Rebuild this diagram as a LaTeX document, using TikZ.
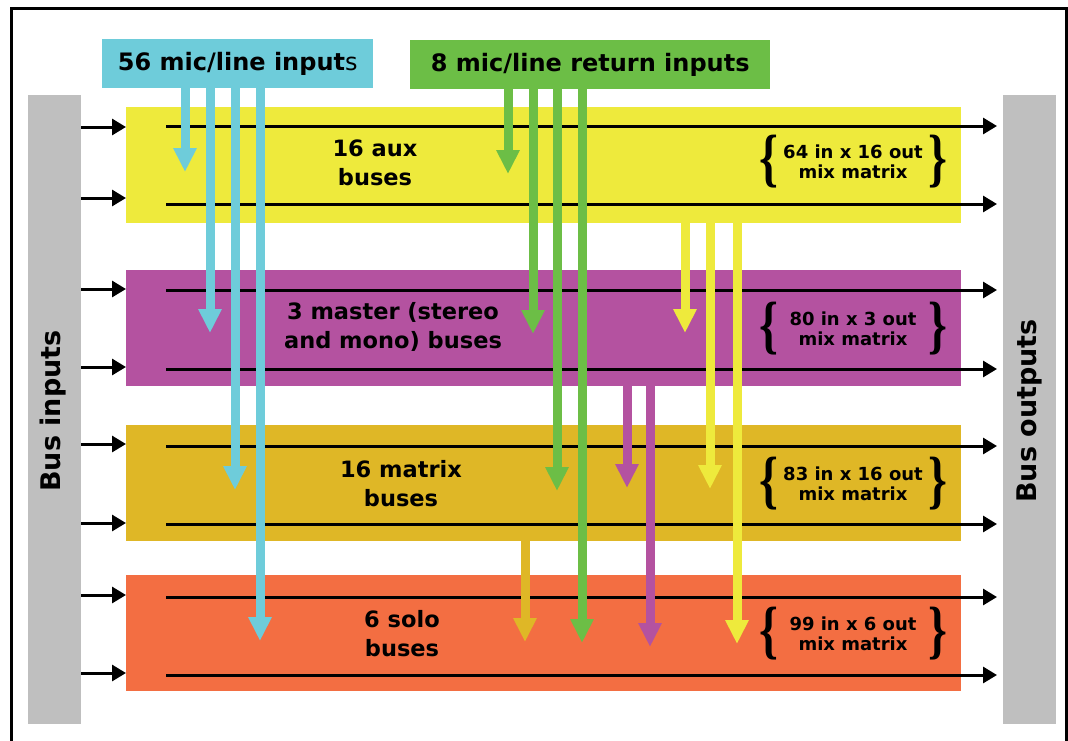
\documentclass[tikz,border=0pt]{standalone}
\usepackage{fontspec}
\setmainfont{DejaVu Sans}
\newfontfamily\bracefont{Liberation Serif}
\usetikzlibrary{arrows.meta}
\definecolor{cyanc}{RGB}{110,204,218}
\definecolor{greenc}{RGB}{108,190,70}
\definecolor{yellowc}{RGB}{238,234,60}
\definecolor{purplec}{RGB}{180,82,160}
\definecolor{goldc}{RGB}{223,183,38}
\definecolor{orangec}{RGB}{243,110,66}
\definecolor{grayc}{RGB}{191,191,191}
\tikzset{
  busbox/.style={rectangle, inner sep=0pt, minimum width=835pt, minimum height=116pt, anchor=north west},
  sidebar/.style={rectangle, fill=grayc, inner sep=0pt, minimum width=53pt, minimum height=629pt, anchor=north west},
  srcbox/.style={rectangle, inner sep=0pt, anchor=north west, minimum height=49pt, font=\fontsize{24}{28}\selectfont},
  buslabel/.style={align=center, inner sep=0pt, font=\bfseries\fontsize{22.5}{29}\selectfont},
  mixlabel/.style={align=center, inner sep=0pt, font=\bfseries\fontsize{18}{20}\selectfont},
  bracemark/.style={inner sep=0pt, xscale=0.75, font=\bracefont\bfseries\fontsize{64}{64}\selectfont},
  barlabel/.style={rotate=90, inner sep=0pt, font=\bfseries\fontsize{27}{30}\selectfont},
  busline/.style={line width=3pt, -{Triangle[width=16pt,length=14pt]}},
  feed/.style={line width=9pt, -{Triangle[width=22pt,length=24pt]}},
}
\begin{document}
\begin{tikzpicture}[x=1pt,y=-1pt]
\useasboundingbox (0,0) rectangle (1068,740);
\fill[white] (0,0) rectangle (1068,740);
\draw[line width=3pt] (11,742) -- (11,8) -- (1066,8) -- (1066,742);

% side bars
\node[sidebar] (bin) at (28,95) {};
\node[sidebar] (bout) at (1003,95) {};
\node[barlabel] (binl) at (53,411) {Bus inputs};
\node[barlabel] (boutl) at (1029,411) {Bus outputs};

% bus boxes
\node[busbox, fill=yellowc] (aux) at (126,107) {};
\node[busbox, fill=purplec] (mst) at (126,270) {};
\node[busbox, fill=goldc] (mtx) at (126,425) {};
\node[busbox, fill=orangec] (solo) at (126,575) {};

% source boxes
\node[srcbox, fill=cyanc, minimum width=271pt] (in56) at (102,39) {\bfseries 56 mic/line input\mdseries s};
\node[srcbox, fill=greenc, minimum width=360pt] (in8) at (410,40) {\bfseries 8 mic/line return inputs};

% bus labels
\node[buslabel] (auxl) at (375,163) {16 aux\\buses};
\node[buslabel] (mstl) at (393,327) {3 master (stereo\\and mono) buses};
\node[buslabel] (mtxl) at (401,484) {16 matrix\\buses};
\node[buslabel] (solol) at (402,634) {6 solo\\buses};

% mix matrix labels with braces
\foreach \n/\y/\t in {auxm/162/64 in x 16 out, mstm/329/80 in x 3 out, mtxm/484/83 in x 16 out, solom/634/99 in x 6 out}{
  \node[mixlabel] (\n) at (853,\y) {\t\\mix matrix};
  \node[bracemark] (\n l) at (769,\y) {\{};
  \node[bracemark] (\n r) at (938,\y) {\}};
}

% bus input arrows
\foreach \b/\ya/\yb in {aux/127/198, mst/289/367, mtx/444/523, solo/595/673}{
  \draw[busline] (81,\ya -| bin.east) -- (81,\ya -| \b.west);
  \draw[busline] (81,\yb -| bin.east) -- (81,\yb -| \b.west);
}
% bus lines to outputs
\foreach \ya/\yb in {126/204, 290/369, 446/524, 597/675}{
  \coordinate (la) at (166,\ya);
  \coordinate (lb) at (166,\yb);
  \draw[busline] (la) -- (997,\ya);
  \draw[busline] (lb) -- (997,\yb);
}

% cyan feeds
\draw[feed, cyanc] (185,0 |- in56.south) -- (185,172);
\draw[feed, cyanc] (210,0 |- in56.south) -- (210,333);
\draw[feed, cyanc] (235,0 |- in56.south) -- (235,490);
\draw[feed, cyanc] (260,0 |- in56.south) -- (260,641);
% green feeds
\draw[feed, greenc] (508,0 |- in8.south) -- (508,174);
\draw[feed, greenc] (533,0 |- in8.south) -- (533,334);
\draw[feed, greenc] (557,0 |- in8.south) -- (557,491);
\draw[feed, greenc] (582,0 |- in8.south) -- (582,643);
% yellow feeds
\draw[feed, yellowc] (685,0 |- aux.south) -- (685,333);
\draw[feed, yellowc] (710,0 |- aux.south) -- (710,489);
\draw[feed, yellowc] (737,0 |- aux.south) -- (737,644);
% purple feeds
\draw[feed, purplec] (627,0 |- mst.south) -- (627,488);
\draw[feed, purplec] (650,0 |- mst.south) -- (650,647);
% gold feed
\draw[feed, goldc] (525,0 |- mtx.south) -- (525,642);
\end{tikzpicture}
\end{document}
